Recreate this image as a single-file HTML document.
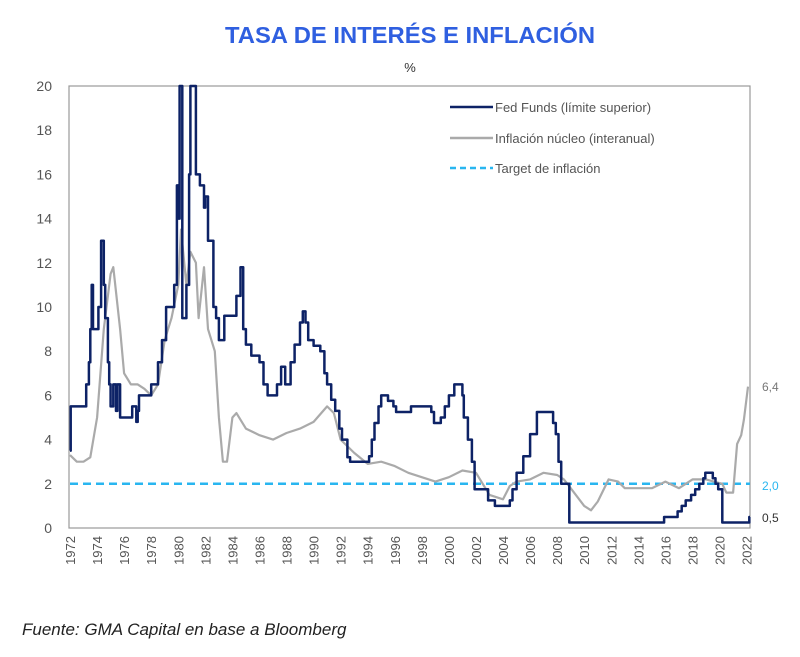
<!DOCTYPE html>
<html><head><meta charset="utf-8"><style>
html,body{margin:0;padding:0;background:#fff;}
svg{display:block;font-family:"Liberation Sans",sans-serif;}
</style></head><body>
<svg id="chart" width="800" height="657" viewBox="0 0 800 657">
<text x="410" y="43" text-anchor="middle" font-size="23" font-weight="bold" fill="#2f5fe0" textLength="370" lengthAdjust="spacingAndGlyphs">TASA DE INTERÉS E INFLACIÓN</text>
<text x="410" y="72" text-anchor="middle" font-size="13" fill="#333">%</text>
<rect x="69" y="86" width="681" height="442" fill="none" stroke="#999" stroke-width="1.2"/>
<g id="yaxis"></g>
<g id="xaxis"></g>
<g id="series"></g>
<g>
<line x1="450" y1="107" x2="493" y2="107" stroke="#0d2266" stroke-width="2.5"/>
<text x="495" y="112" font-size="13" fill="#555">Fed Funds (límite superior)</text>
<line x1="450" y1="138" x2="493" y2="138" stroke="#aaa" stroke-width="2.5"/>
<text x="495" y="143" font-size="13" fill="#555">Inflación núcleo (interanual)</text>
<line x1="450" y1="168" x2="493" y2="168" stroke="#29b6f0" stroke-width="2.5" stroke-dasharray="6,4"/>
<text x="495" y="173" font-size="13" fill="#555">Target de inflación</text>
</g>
<text x="762" y="391" font-size="12" fill="#777">6,4</text>
<text x="762" y="490" font-size="12" fill="#29b6f0">2,0</text>
<text x="762" y="522" font-size="12" fill="#333">0,5</text>
<text x="22" y="635" font-size="17" font-style="italic" fill="#222">Fuente: GMA Capital en base a Bloomberg</text>
</svg>
<script>
const yTicks=[0,2,4,6,8,10,12,14,16,18,20];
const xTicks=[1972,1974,1976,1978,1980,1982,1984,1986,1988,1990,1992,1994,1996,1998,2000,2002,2004,2006,2008,2010,2012,2014,2016,2018,2020,2022];
const fedYears=[1972.0,1972.05,1973.2,1973.4,1973.5,1973.6,1973.7,1974.1,1974.3,1974.5,1974.6,1974.8,1974.9,1975.0,1975.2,1975.4,1975.5,1975.7,1976.2,1976.6,1976.9,1977.0,1977.1,1978.0,1978.5,1978.8,1979.1,1979.7,1979.9,1980.0,1980.1,1980.3,1980.6,1980.8,1980.9,1981.3,1981.6,1981.9,1982.0,1982.2,1982.6,1982.8,1983.0,1983.4,1984.0,1984.3,1984.6,1984.8,1985.0,1985.4,1986.0,1986.3,1986.6,1987.1,1987.3,1987.6,1987.9,1988.3,1988.6,1989.0,1989.2,1989.4,1989.6,1990.0,1990.5,1990.8,1991.0,1991.3,1991.6,1991.9,1992.1,1992.5,1992.7,1994.1,1994.3,1994.5,1994.8,1995.0,1995.5,1995.9,1996.1,1997.2,1998.7,1998.9,1999.4,1999.7,2000.0,2000.4,2001.0,2001.1,2001.4,2001.7,2001.9,2002.9,2003.4,2004.5,2004.7,2005.0,2005.5,2006.0,2006.5,2007.7,2007.9,2008.1,2008.3,2008.9,2015.9,2016.9,2017.2,2017.5,2017.9,2018.2,2018.5,2018.8,2018.95,2019.5,2019.7,2019.9,2020.2,2022.2];
const fedValues=[3.5,5.5,6.5,7.5,9,11,9,10,13,11,9.5,7.5,6.5,5.5,6.5,5.3,6.5,5,5.0,5.5,4.8,5.3,6,6.5,7.5,8.5,10,11,15.5,14,20,9.5,11,16,20,16,15.5,14.5,15,13,10,9.5,8.5,9.6,9.6,10.5,11.8,9,8.3,7.8,7.5,6.5,6,6,6.5,7.3,6.5,7.5,8.3,9.3,9.8,9.3,8.5,8.25,8,7,6.5,5.8,5.3,4.5,4,3.2,3,3.25,4,4.75,5.5,6,5.75,5.5,5.25,5.5,5.25,4.75,5,5.5,6,6.5,6,5,4,3,1.75,1.25,1.0,1.25,1.75,2.5,3.25,4.25,5.25,4.75,4.25,3.0,2,0.25,0.5,0.75,1.0,1.25,1.5,1.75,2.0,2.25,2.5,2.25,2.0,1.75,0.25,0.5];
const fedEndYear=2022.25;
const inflYears=[1972,1972.5,1973,1973.5,1974,1974.5,1975,1975.2,1975.7,1976,1976.5,1977,1977.5,1978,1978.5,1979,1979.5,1980,1980.2,1980.6,1980.9,1981.3,1981.5,1981.9,1982.2,1982.7,1983.0,1983.3,1983.6,1984,1984.3,1985,1986,1987,1988,1989,1990,1991,1991.5,1992,1993,1994,1995,1996,1997,1998,1999,2000,2001,2002,2003,2004,2004.5,2005,2006,2007,2008,2008.5,2009,2010,2010.5,2011,2011.8,2012.5,2013,2014,2015,2016,2017,2018,2019,2020.2,2020.5,2021.0,2021.3,2021.6,2021.8,2022.1];
const inflValues=[3.3,3.0,3.0,3.2,5,9,11.5,11.8,9,7,6.5,6.5,6.3,6.0,6.5,8.5,9.5,11,13.5,11,12.5,12,9.5,11.8,9,8,5,3,3,5,5.2,4.5,4.2,4,4.3,4.5,4.8,5.5,5.2,4,3.4,2.9,3,2.8,2.5,2.3,2.1,2.3,2.6,2.5,1.5,1.3,1.9,2.1,2.2,2.5,2.4,2.2,1.8,1.0,0.8,1.2,2.2,2.1,1.8,1.8,1.8,2.1,1.8,2.2,2.2,2.0,1.6,1.6,3.8,4.2,4.9,6.4];
const targetValue=2.0;

const X0=70,X1=750,Y0=528,Y1=86;
const xs=y=>X0+(y-1972)/(2022.25-1972)*(X1-X0);
const ys=v=>Y0-v/20*(Y0-Y1);
const NS='http://www.w3.org/2000/svg';
function mk(t,a,p){const e=document.createElementNS(NS,t);for(const k in a)e.setAttribute(k,a[k]);p.appendChild(e);return e;}
const ya=document.getElementById('yaxis'),xa=document.getElementById('xaxis'),sg=document.getElementById('series');
yTicks.forEach(v=>{const t=mk('text',{x:52,y:ys(v)+5,'text-anchor':'end','font-size':14,fill:'#555'},ya);


t.textContent=v;});
xTicks.forEach(v=>{const x=xs(v);const t=mk('text',{x:0,y:0,'text-anchor':'end','font-size':13,fill:'#555',transform:`translate(${x+5},536) rotate(-90)`},xa);


t.textContent=v;});
const tl=mk('line',{x1:X0,x2:X1,y1:ys(targetValue),y2:ys(targetValue),stroke:'#29b6f0','stroke-width':2.5,'stroke-dasharray':'8,5'},sg);


function linePath(xa_,vs){let d='';vs.forEach((v,i)=>{d+=(i?'L':'M')+xs(xa_[i]).toFixed(1)+','+ys(v).toFixed(1);});return d;}
function stepPath(xa_,vs,end){let d='';vs.forEach((v,i)=>{const y=ys(v).toFixed(1);const x=xs(xa_[i]).toFixed(1);d+=(i?'L'+x+','+y:'M'+x+','+y);const nx=xs(i<vs.length-1?xa_[i+1]:end).toFixed(1);d+='L'+nx+','+y;});return d;}
const ip=mk('path',{d:linePath(inflYears,inflValues),fill:'none',stroke:'#aaa','stroke-width':2.2,'stroke-linejoin':'round'},sg);


const fp=mk('path',{d:stepPath(fedYears,fedValues,fedEndYear),fill:'none',stroke:'#0d2266','stroke-width':2.5,'stroke-linejoin':'round'},sg);


</script>
</body></html>
